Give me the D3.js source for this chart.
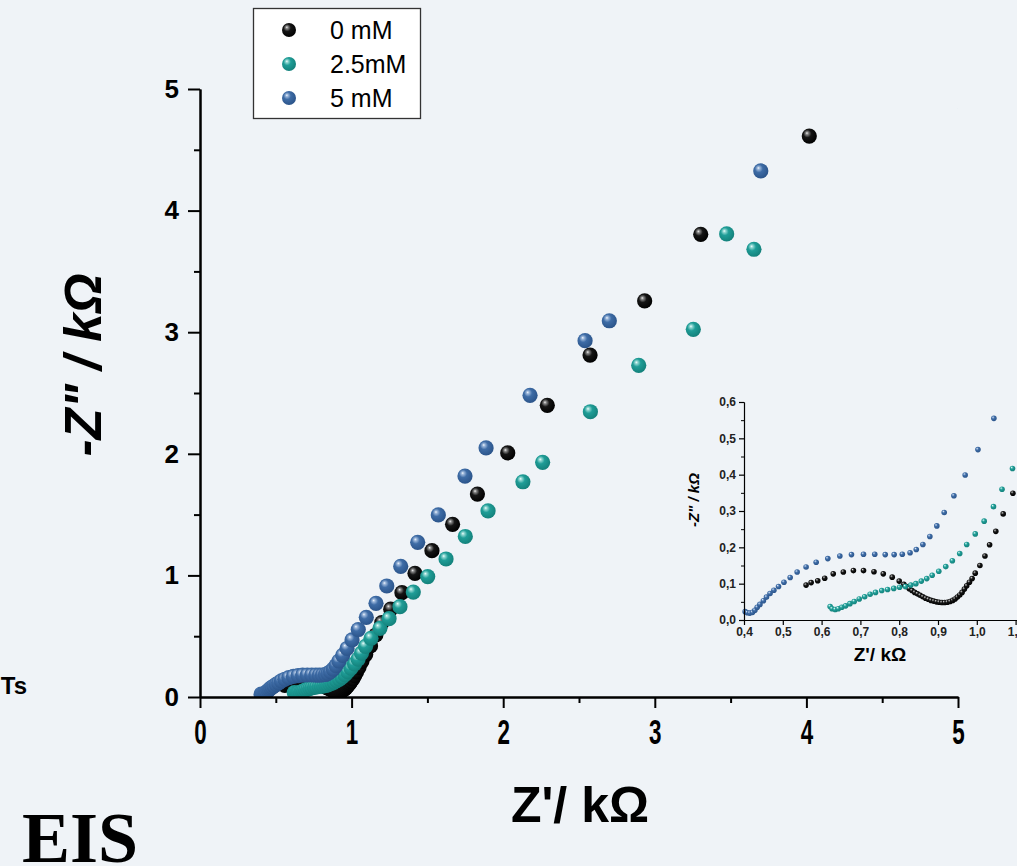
<!DOCTYPE html>
<html>
<head>
<meta charset="utf-8">
<script src="https://cdn.jsdelivr.net/npm/d3@7"></script>
<style>
  body { margin: 0; background: #eff3f7; }
  svg { display: block; font-family: 'Liberation Sans', Arial, sans-serif; }
</style>
</head>
<body>
<div id="eis"></div>
<script>
// Nyquist data: [ Z' (kOhm), -Z'' (kOhm) ]
const seriesNames = [ '0 mM', '2.5mM', '5 mM' ];

const z0mM = [
  [0.560,0.096],[0.573,0.103],[0.590,0.108],[0.608,0.115],[0.630,0.127],[0.656,0.132],[0.682,0.136],
  [0.708,0.136],[0.735,0.133],[0.759,0.127],[0.782,0.118],[0.800,0.107],[0.812,0.098],[0.819,0.092],
  [0.826,0.086],[0.833,0.081],[0.840,0.076],[0.847,0.072],[0.854,0.068],[0.861,0.064],[0.868,0.060],
  [0.875,0.057],[0.882,0.054],[0.889,0.052],[0.896,0.050],[0.903,0.049],[0.910,0.048],[0.917,0.048],
  [0.924,0.049],[0.931,0.051],[0.938,0.054],[0.944,0.058],[0.950,0.063],[0.956,0.069],[0.962,0.076],
  [0.968,0.085],[0.974,0.094],[0.981,0.104],[0.988,0.114],[0.996,0.129],[1.008,0.150],[1.021,0.176],
  [1.033,0.207],[1.049,0.244],[1.068,0.292],[1.093,0.349],[1.125,0.420],[1.160,0.510],[1.199,0.611],
  [1.258,0.722],[1.332,0.858],[1.418,1.017],[1.530,1.203],[1.666,1.420],[1.830,1.669],[2.030,2.007],
  [2.291,2.399],[2.573,2.812],[2.933,3.257],[3.303,3.805],[4.019,4.613]
];

const z25mM = [
  [0.622,0.037],[0.627,0.031],[0.635,0.029],[0.643,0.031],[0.652,0.035],[0.662,0.039],[0.673,0.045],
  [0.684,0.051],[0.697,0.058],[0.711,0.064],[0.725,0.071],[0.739,0.076],[0.755,0.081],[0.770,0.084],
  [0.786,0.087],[0.801,0.090],[0.816,0.092],[0.830,0.096],[0.843,0.100],[0.857,0.107],[0.871,0.114],
  [0.885,0.123],[0.902,0.134],[0.920,0.147],[0.937,0.163],[0.956,0.183],[0.974,0.208],[0.996,0.237],
  [1.019,0.272],[1.043,0.312],[1.065,0.360],[1.092,0.417],[1.128,0.483],[1.187,0.565],[1.247,0.644],
  [1.319,0.743],[1.407,0.863],[1.502,0.990],[1.623,1.135],[1.750,1.320],[1.900,1.530],[2.130,1.770],
  [2.260,1.930],[2.575,2.346],[2.894,2.728],[3.254,3.024],[3.474,3.808],[3.654,3.682],[5.050,4.840]
];

const z5mM = [
  [0.403,0.023],[0.409,0.020],[0.415,0.019],[0.422,0.021],[0.428,0.027],[0.434,0.035],[0.441,0.043],
  [0.450,0.053],[0.458,0.063],[0.467,0.073],[0.477,0.082],[0.489,0.092],[0.503,0.104],[0.519,0.117],
  [0.537,0.132],[0.560,0.146],[0.586,0.159],[0.616,0.169],[0.647,0.176],[0.677,0.180],[0.708,0.181],
  [0.737,0.181],[0.764,0.180],[0.787,0.180],[0.808,0.181],[0.828,0.185],[0.844,0.194],[0.861,0.208],
  [0.879,0.230],[0.897,0.259],[0.916,0.296],[0.941,0.342],[0.970,0.399],[1.003,0.469],[1.044,0.555],
  [1.097,0.655],[1.161,0.770],[1.232,0.913],[1.324,1.075],[1.436,1.272],[1.572,1.497],[1.748,1.817],
  [1.887,2.048],[2.177,2.481],[2.540,2.930],[2.700,3.094],[3.699,4.326]
];

const mainTicks = [ 0, 1, 2, 3, 4, 5 ];
const mainMinor = [ 0.5, 1.5, 2.5, 3.5, 4.5 ];
const insetXTicks = [ 0.4, 0.5, 0.6, 0.7, 0.8, 0.9, 1.0, 1.1 ];
const insetYTicks = [ 0.0, 0.1, 0.2, 0.3, 0.4, 0.5, 0.6 ];

const series = [
  { name: seriesNames[0], data: z0mM,  grad: 'g-black' },
  { name: seriesNames[1], data: z25mM, grad: 'g-teal' },
  { name: seriesNames[2], data: z5mM,  grad: 'g-blue' }
];

const svg = d3.select( '#eis' )
  .append( 'svg' )
    .attr( 'width', 1017 )
    .attr( 'height', 866 );

// Shaded sphere markers
const defs = svg.append( 'defs' );
function addGradient( id, stops ) {
  const g = defs.append( 'radialGradient' )
      .attr( 'id', id )
      .attr( 'cx', '42%' ).attr( 'cy', '40%' ).attr( 'r', '62%' )
      .attr( 'fx', '34%' ).attr( 'fy', '30%' );
  stops.forEach( function( s ) {
    g.append( 'stop' ).attr( 'offset', s[0] ).attr( 'stop-color', s[1] );
  });
}
addGradient( 'g-black', [ [0, '#f2f2f2'], [0.14, '#8a8a8a'], [0.42, '#151515'], [1, '#000'] ] );
addGradient( 'g-teal',  [ [0, '#f4fffe'], [0.14, '#93d8d3'], [0.42, '#1f9d97'], [1, '#13807a'] ] );
addGradient( 'g-blue',  [ [0, '#f4f8fd'], [0.14, '#9db8db'], [0.42, '#3e6ca6'], [1, '#2a5389'] ] );

defs.append( 'clipPath' ).attr( 'id', 'clip-main' )
  .append( 'rect' ).attr( 'x', 0 ).attr( 'y', 0 ).attr( 'width', 958 ).attr( 'height', 697 );
defs.append( 'clipPath' ).attr( 'id', 'clip-inset' )
  .append( 'rect' ).attr( 'x', 737 ).attr( 'y', 395 ).attr( 'width', 290 ).attr( 'height', 226 );

// Main scales
const x = d3.scaleLinear().domain( [0, 5] ).range( [200, 958] );
const y = d3.scaleLinear().domain( [0, 5] ).range( [697, 89] );

// Main points
const pts = svg.append( 'g' ).attr( 'clip-path', 'url(#clip-main)' );
series.forEach( function( s ) {
  pts.append( 'g' ).selectAll( 'circle' )
    .data( s.data )
    .enter()
    .append( 'circle' )
      .attr( 'cx', function( d ){ return x( d[0] ); } )
      .attr( 'cy', function( d ){ return y( d[1] ); } )
      .attr( 'r', 7.6 )
      .style( 'fill', 'url(#' + s.grad + ')' );
});

// Main axes
function styleAxis( g, w ) {
  g.select( '.domain' ).attr( 'stroke-width', w );
  g.selectAll( '.tick line' ).attr( 'stroke-width', w );
}
const intFmt = d3.format( 'd' );
const xAxis = svg.append( 'g' )
    .attr( 'transform', 'translate( 0, 697 )' )
    .call( d3.axisBottom( x ).tickValues( mainTicks ).tickSize( 11 ).tickSizeOuter( 0 ).tickFormat( intFmt ) );
styleAxis( xAxis, 2 );
xAxis.selectAll( 'text' )
    .attr( 'y', 47 ).attr( 'dy', 0 )
    .attr( 'transform', 'scale( 0.64, 1 )' )
    .style( 'font-size', '35px' ).style( 'font-weight', 'bold' ).style( 'fill', '#000' );
const xMinor = svg.append( 'g' )
    .attr( 'transform', 'translate( 0, 697 )' )
    .call( d3.axisBottom( x ).tickValues( mainMinor ).tickSize( 6 ).tickSizeOuter( 0 ).tickFormat( '' ) );
styleAxis( xMinor, 2 );

const yAxis = svg.append( 'g' )
    .attr( 'transform', 'translate( 200, 0 )' )
    .call( d3.axisLeft( y ).tickValues( mainTicks ).tickSize( 12 ).tickSizeOuter( 0 ).tickFormat( intFmt ) );
styleAxis( yAxis, 2 );
yAxis.selectAll( 'text' )
    .attr( 'x', -21 )
    .style( 'font-size', '26px' ).style( 'font-weight', 'bold' ).style( 'fill', '#000' );
const yMinor = svg.append( 'g' )
    .attr( 'transform', 'translate( 200, 0 )' )
    .call( d3.axisLeft( y ).tickValues( mainMinor ).tickSize( 6 ).tickSizeOuter( 0 ).tickFormat( '' ) );
styleAxis( yMinor, 2 );

// Axis titles
svg.append( 'text' )
    .attr( 'x', 580 ).attr( 'y', 822 )
    .attr( 'text-anchor', 'middle' )
    .style( 'font-size', '50px' ).style( 'font-weight', 'bold' )
    .text( "Z'/ kΩ" );
svg.append( 'text' )
    .attr( 'transform', 'translate( 101, 365 ) rotate( -90 )' )
    .attr( 'text-anchor', 'middle' )
    .style( 'font-size', '51px' ).style( 'font-weight', 'bold' ).style( 'font-style', 'italic' )
    .text( '-Z" / kΩ' );

// Legend
const legend = svg.append( 'g' );
legend.append( 'rect' )
    .attr( 'x', 253.5 ).attr( 'y', 8.5 ).attr( 'width', 167 ).attr( 'height', 110 )
    .style( 'fill', '#fff' ).style( 'stroke', '#333' ).style( 'stroke-width', 1.3 );
const rows = legend.selectAll( 'g.row' )
    .data( series )
    .enter()
    .append( 'g' )
      .attr( 'class', 'row' )
      .attr( 'transform', function( d, i ){ return 'translate( 0, ' + ( 30 + i * 34 ) + ' )'; } );
rows.append( 'circle' )
    .attr( 'cx', 289 ).attr( 'cy', 0 ).attr( 'r', 7 )
    .style( 'fill', function( d ){ return 'url(#' + d.grad + ')'; } );
rows.append( 'text' )
    .attr( 'x', 330 ).attr( 'y', 9 )
    .style( 'font-size', '25px' )
    .text( function( d ){ return d.name; } );

// Inset (zoom on the high-frequency region)
const xi = d3.scaleLinear().domain( [0.4, 1.1] ).range( [744, 1015.6] );
const yi = d3.scaleLinear().domain( [0, 0.6] ).range( [620, 402] );
const comma = function( v ){ return d3.format( '.1f' )( v ).replace( '.', ',' ); };

const ipts = svg.append( 'g' ).attr( 'clip-path', 'url(#clip-inset)' );
series.forEach( function( s ) {
  ipts.append( 'g' ).selectAll( 'circle' )
    .data( s.data.filter( function( d ){ return d[0] <= 1.15 && d[1] <= 0.6; } ) )
    .enter()
    .append( 'circle' )
      .attr( 'cx', function( d ){ return xi( d[0] ); } )
      .attr( 'cy', function( d ){ return yi( d[1] ); } )
      .attr( 'r', 2.8 )
      .style( 'fill', 'url(#' + s.grad + ')' );
});

const xiAxis = svg.append( 'g' )
    .attr( 'transform', 'translate( 0, 620 )' )
    .call( d3.axisBottom( xi ).tickValues( insetXTicks ).tickSize( 5 ).tickSizeOuter( 0 ).tickFormat( comma ) );
xiAxis.select( '.domain' ).attr( 'd', 'M744,0.5H1030' );
styleAxis( xiAxis, 1.2 );
xiAxis.selectAll( 'text' )
    .attr( 'y', 16 ).attr( 'dy', 0 )
    .style( 'font-size', '12px' ).style( 'font-weight', 'bold' ).style( 'fill', '#222' );

const yiAxis = svg.append( 'g' )
    .attr( 'transform', 'translate( 744, 0 )' )
    .call( d3.axisLeft( yi ).tickValues( insetYTicks ).tickSize( 5 ).tickSizeOuter( 0 ).tickFormat( comma ) );
styleAxis( yiAxis, 1.2 );
yiAxis.selectAll( 'text' )
    .attr( 'x', -8 )
    .style( 'font-size', '12px' ).style( 'font-weight', 'bold' ).style( 'fill', '#222' );
const yiMinor = svg.append( 'g' )
    .attr( 'transform', 'translate( 744, 0 )' )
    .call( d3.axisLeft( yi ).tickValues( [0.05, 0.15, 0.25, 0.35, 0.45, 0.55] ).tickSize( 3 ).tickSizeOuter( 0 ).tickFormat( '' ) );
styleAxis( yiMinor, 1 );

svg.append( 'text' )
    .attr( 'x', 880 ).attr( 'y', 661 )
    .attr( 'text-anchor', 'middle' )
    .style( 'font-size', '19px' ).style( 'font-weight', 'bold' )
    .text( "Z'/ kΩ" );
svg.append( 'text' )
    .attr( 'transform', 'translate( 699, 500 ) rotate( -90 )' )
    .attr( 'text-anchor', 'middle' )
    .style( 'font-size', '15px' ).style( 'font-weight', 'bold' ).style( 'font-style', 'italic' )
    .text( '-Z" / kΩ' );

// Stray page text around the figure (cut by the left edge, as in the source)
svg.append( 'text' )
    .attr( 'x', 27 ).attr( 'y', 694 )
    .attr( 'text-anchor', 'end' )
    .style( 'font-size', '24px' ).style( 'font-weight', 'bold' )
    .text( 'CNTs' );
svg.append( 'text' )
    .attr( 'x', 22 ).attr( 'y', 862 )
    .style( 'font-family', "'Liberation Serif', 'Times New Roman', serif" )
    .style( 'font-size', '72px' ).style( 'font-weight', 'bold' )
    .text( 'EIS' );
</script>
</body>
</html>
